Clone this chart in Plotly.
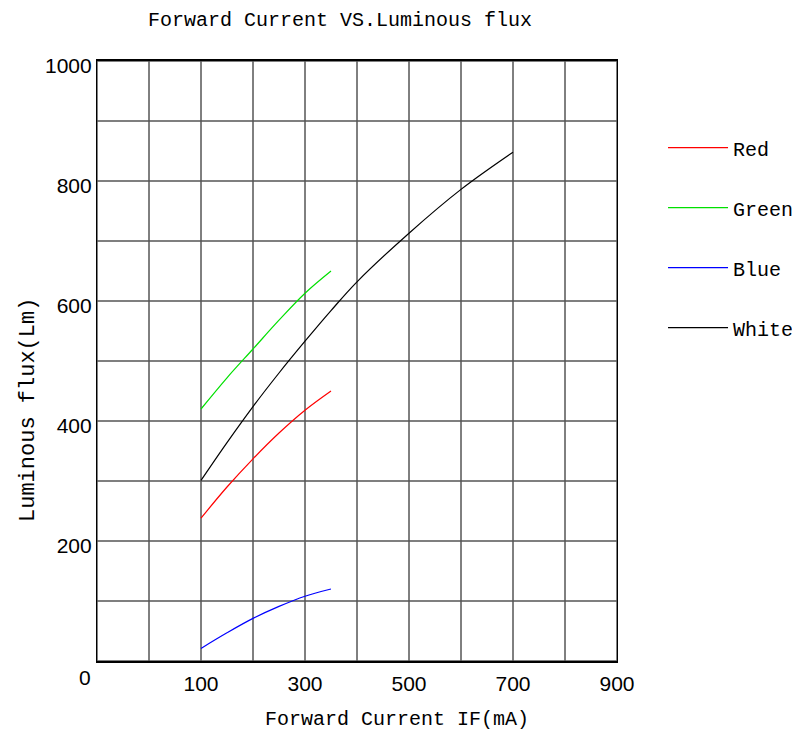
import plotly.graph_objects as go

# Data
current_rgb = [100, 150, 200, 250, 300, 350]
red_flux = [238, 290, 337, 380, 418, 450]
green_flux = [420, 472, 520, 568, 613, 650]
blue_flux = [21, 47, 71, 91, 108, 120]
current_white = [100, 150, 200, 250, 300, 350, 400, 500, 600, 700]
white_flux = [301, 364, 424, 480, 533, 584, 632, 713, 786, 848]

x_tickvals = [100, 300, 500, 700, 900]
y_tickvals = [200, 400, 600, 800, 1000]

mono = "Liberation Mono"
sans = "Liberation Sans"

fig = go.Figure()
series = [
    ("Red", current_rgb, red_flux, "#ff0000"),
    ("Green", current_rgb, green_flux, "#00e000"),
    ("Blue", current_rgb, blue_flux, "#0000ff"),
    ("White", current_white, white_flux, "#000000"),
]
for name, xs, ys, col in series:
    fig.add_trace(go.Scatter(x=xs, y=ys, mode="lines", name=name, legendgroup=name,
                             line=dict(color=col, width=1.2, shape="spline")))

txt = dict(showarrow=False, font=dict(family=mono, size=20, color="#000"))
fig.add_annotation(x=-100, y=0, xref="x", yref="y", text="0", showarrow=False,
                   xshift=-12, yshift=-16, font=dict(family=sans, size=21, color="#000"))
fig.add_annotation(x=0.4673, y=1.0683, xref="paper", yref="paper",
                   text="Forward Current VS.Luminous flux", xanchor="center", yanchor="middle", **txt)
fig.add_annotation(x=0.5769, y=-0.0983, xref="paper", yref="paper",
                   text="Forward Current IF(mA)", xanchor="center", yanchor="middle", **txt)
fig.add_annotation(x=-0.1327, y=0.4183, xref="paper", yref="paper", textangle=-90,
                   text="Luminous flux(Lm)", xanchor="center", yanchor="middle",
                   showarrow=False, font=dict(family=mono, size=22, color="#000"))

# The page body adds an 8px offset, so the figure is sized 792x729
fig.update_layout(
    width=792, height=729,
    margin=dict(l=89, r=183, t=53, b=76, autoexpand=False),
    paper_bgcolor="white", plot_bgcolor="white",
    showlegend=True,
    legend=dict(x=1.0885, xanchor="left", y=0.888, yanchor="top", xref="paper", yref="paper",
                font=dict(family=mono, size=20, color="#000"),
                tracegroupgap=31, itemwidth=60, bgcolor="rgba(0,0,0,0)"),
    xaxis=dict(range=[-100, 900], tickmode="array", tickvals=x_tickvals,
               ticks="", showgrid=False, zeroline=False, automargin=False,
               showline=True, linecolor="#000", linewidth=1.5, mirror=True,
               tickfont=dict(family=sans, size=21, color="#000"), ticklabelstandoff=3),
    yaxis=dict(range=[0, 1000], tickmode="array", tickvals=y_tickvals,
               ticks="", showgrid=False, zeroline=False, automargin=False,
               showline=True, linecolor="#000", linewidth=1.2, mirror=True,
               tickfont=dict(family=sans, size=21, color="#000"), ticklabelshift=5,
               ticklabelstandoff=0),
)

# Grid lines, one per 100 units
for gx in range(-100, 901, 100):
    fig.add_shape(type="line", x0=gx, x1=gx, y0=0, y1=1000, xref="x", yref="y",
                  line=dict(color="#000", width=1), layer="below")
for gy in range(0, 1001, 100):
    fig.add_shape(type="line", x0=-100, x1=900, y0=gy, y1=gy, xref="x", yref="y",
                  line=dict(color="#555", width=1.5), layer="below")

fig.write_html("out.html")
